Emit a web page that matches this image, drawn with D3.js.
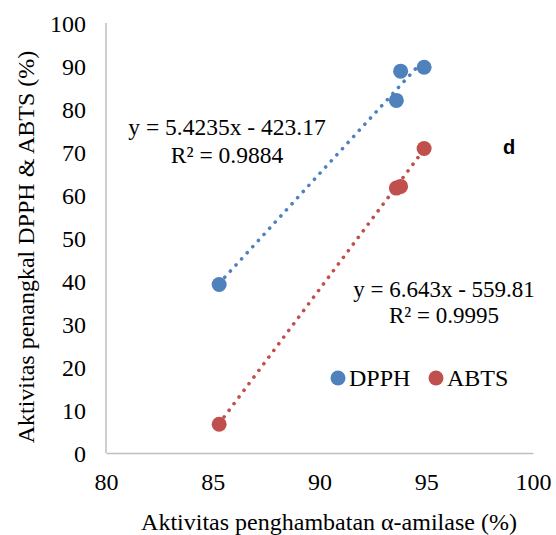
<!DOCTYPE html>
<html><head><meta charset="utf-8">
<script src="https://cdn.jsdelivr.net/npm/d3@7"></script>
<style>body{margin:0;background:#fff}svg{display:block}</style>
</head><body>
<script>
const xValues = [85.3, 93.6, 93.8, 94.9];
const dpphValues = [39.2, 82.0, 88.8, 89.7];
const abtsValues = [6.7, 61.6, 62.0, 70.8];
const xTicks = [80, 85, 90, 95, 100];
const yTicks = [0, 10, 20, 30, 40, 50, 60, 70, 80, 90, 100];
const seriesNames = ["DPPH", "ABTS"];
const dpphFit = {slope: 5.4235, intercept: -423.17, label: "y = 5.4235x - 423.17", r2: "R² = 0.9884"};
const abtsFit = {slope: 6.643, intercept: -559.81, label: "y = 6.643x - 559.81", r2: "R² = 0.9995"};

const W = 556, H = 535;
const serif = "'Liberation Serif', 'Times New Roman', serif";
const colors = {DPPH: "#4F81BD", ABTS: "#C0504D"};
const svg = d3.select("body").append("svg").attr("width", W).attr("height", H);

const x = d3.scaleLinear().domain([80, 100]).range([106, 533]);
const y = d3.scaleLinear().domain([0, 100]).range([453, 23]);

// axes
const xAxis = svg.append("g").attr("transform", "translate(0,453)")
  .call(d3.axisBottom(x).tickValues(xTicks).tickSize(0).tickPadding(20));
const yAxis = svg.append("g").attr("transform", "translate(106,0)")
  .call(d3.axisLeft(y).tickValues(yTicks).tickSize(0).tickPadding(20));
[xAxis, yAxis].forEach(g => {
  g.attr("font-family", serif).attr("font-size", 24);
  g.select(".domain").attr("stroke", "#BFBFBF").attr("stroke-width", 1.5);
  g.selectAll("text").attr("fill", "#000");
});
yAxis.select(".domain").attr("d", "M0,23V453");
yAxis.selectAll("text").attr("dy", "0.36em");

// trendlines
const series = [
  {name: "DPPH", vals: dpphValues, fit: dpphFit},
  {name: "ABTS", vals: abtsValues, fit: abtsFit}
];
const xmin = d3.min(xValues), xmax = d3.max(xValues);
series.forEach(s => {
  svg.append("line")
    .attr("x1", x(xmin)).attr("y1", y(s.fit.slope * xmin + s.fit.intercept))
    .attr("x2", x(xmax)).attr("y2", y(s.fit.slope * xmax + s.fit.intercept))
    .attr("stroke", colors[s.name]).attr("stroke-width", 3.6)
    .attr("stroke-linecap", "round").attr("stroke-dasharray", "0.1 8.2");
});
// points
series.forEach(s => {
  svg.append("g").selectAll("circle").data(xValues.map((xv, i) => [xv, s.vals[i]]))
    .join("circle").attr("cx", d => x(d[0])).attr("cy", d => y(d[1])).attr("r", 7.5)
    .attr("fill", colors[s.name]);
});

// equations
function eq(fit, cx, y1, y2, fs) {
  svg.append("text").attr("x", cx).attr("y", y1).attr("text-anchor", "middle")
    .attr("font-family", serif).attr("font-size", fs).text(fit.label);
  svg.append("text").attr("x", cx).attr("y", y2).attr("text-anchor", "middle")
    .attr("font-family", serif).attr("font-size", fs).text(fit.r2);
}
eq(dpphFit, 227, 135, 163, 23.5);
eq(abtsFit, 444, 297, 323, 23);

svg.append("text").attr("x", 509).attr("y", 154).attr("text-anchor", "middle")
  .attr("font-family", "'Liberation Sans', Arial, sans-serif").attr("font-weight", "bold")
  .attr("font-size", 20).text("d");

// legend
const legendPos = [338, 436];
seriesNames.forEach((n, i) => {
  svg.append("circle").attr("cx", legendPos[i]).attr("cy", 378).attr("r", 7.5).attr("fill", colors[n]);
  svg.append("text").attr("x", legendPos[i] + 11).attr("y", 386)
    .attr("font-family", serif).attr("font-size", 24).text(n);
});

// axis titles
svg.append("text").attr("x", 329).attr("y", 530).attr("text-anchor", "middle")
  .attr("font-family", serif).attr("font-size", 24).text("Aktivitas penghambatan α-amilase (%)");
svg.append("text").attr("transform", "translate(34,247) rotate(-90)").attr("text-anchor", "middle")
  .attr("font-family", serif).attr("font-size", 24).text("Aktivitas penangkal DPPH & ABTS (%)");
</script>
</body></html>
